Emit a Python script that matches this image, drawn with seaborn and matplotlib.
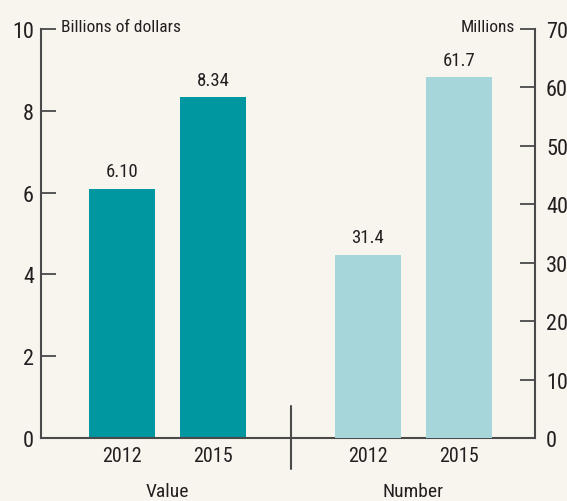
import matplotlib
matplotlib.use("Agg")
import matplotlib.pyplot as plt
import seaborn as sns
import pandas as pd
from matplotlib import font_manager

# data
years = ["2012", "2015"]
value_bn = [6.10, 8.34]      # billions of dollars
number_mn = [31.4, 61.7]     # millions
groups = ["Value", "Number"]

value_pos = [0.0, 1.0]
number_pos = [2.7, 3.7]

sns.set_theme(style="white")
names = {f.name for f in font_manager.fontManager.ttflist}
fam = [n for n in ["Roboto Condensed", "Liberation Sans Narrow", "Liberation Sans"] if n in names][:1]
plt.rcParams["font.family"] = fam + ["DejaVu Sans"]

bg = "#f8f5ef"
dark = "#0097a0"
light = "#a6d5da"
ink = "#231f20"
spine = "#4a4a4a"

fig = plt.figure(figsize=(5.67, 5.02), dpi=100, facecolor=bg)
ax = fig.add_axes([41 / 567, 63 / 502, 494 / 567, 409 / 502])
ax.set_facecolor(bg)
ax2 = ax.twinx()

df_val = pd.DataFrame({"x": value_pos, "y": value_bn})
df_num = pd.DataFrame({"x": number_pos, "y": number_mn})

sns.barplot(data=df_val, x="x", y="y", native_scale=True, width=0.725,
            color=dark, saturation=1, linewidth=0, ax=ax)
sns.barplot(data=df_num, x="x", y="y", native_scale=True, width=0.725,
            color=light, saturation=1, linewidth=0, ax=ax2)

ax.bar_label(ax.containers[0], fmt="%.2f", padding=6, fontsize=13.5, color=ink)
ax2.bar_label(ax2.containers[0], fmt="%.1f", padding=6, fontsize=13.5, color=ink)

ax.set_xlim(-0.89, 3.7 + 0.835)
ax.set_ylim(0, 10)
ax2.set_ylim(0, 70)
ax.set_yticks([0, 2, 4, 6, 8, 10])
ax2.set_yticks(range(0, 71, 10))

ax.set_xticks(value_pos + number_pos)
ax.set_xticklabels(years + years)
ax.set_xlabel("")
ax.set_ylabel("")
ax2.set_ylabel("")

for a in (ax, ax2):
    a.spines["top"].set_visible(False)
    for s in ("left", "right", "bottom"):
        a.spines[s].set_color(spine)
        a.spines[s].set_linewidth(1.5)
ax.spines["right"].set_visible(False)
ax2.spines["left"].set_visible(False)
ax2.spines["bottom"].set_visible(False)

ax.tick_params(axis="y", direction="in", length=11, width=1.3, color=spine,
               labelsize=16, labelcolor=ink, pad=5, left=True)
ax2.tick_params(axis="y", direction="in", length=11, width=1.3, color=spine,
                labelsize=16, labelcolor=ink, pad=8, right=True)
ax.tick_params(axis="x", length=0, labelsize=14.5, labelcolor=ink, pad=6)

ax.text(0.04, 1.005, "Billions of dollars", transform=ax.transAxes,
        ha="left", va="center", fontsize=12.5, color=ink)
ax.text(0.96, 1.005, "Millions", transform=ax.transAxes,
        ha="right", va="center", fontsize=12.5, color=ink)

# group labels below the years
ax.text(sum(value_pos) / 2, -0.13, groups[0], transform=ax.get_xaxis_transform(),
        ha="center", va="center", fontsize=14, color=ink)
ax.text(sum(number_pos) / 2, -0.13, groups[1], transform=ax.get_xaxis_transform(),
        ha="center", va="center", fontsize=14, color=ink)

# divider between the two groups
mid = (value_pos[1] + number_pos[0]) / 2
ax.plot([mid, mid], [0.078, -0.076], transform=ax.get_xaxis_transform(),
        color=spine, lw=1.5, clip_on=False)

fig.savefig("out.png", dpi=100, facecolor=bg)
